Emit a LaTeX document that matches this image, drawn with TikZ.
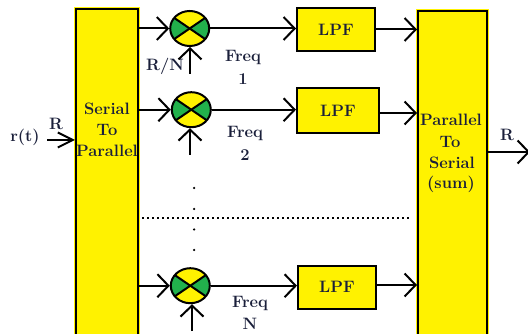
\documentclass[tikz,border=0pt]{standalone}
\usetikzlibrary{arrows.meta,shapes.geometric}
\definecolor{byel}{HTML}{FFF200}
\definecolor{bgrn}{HTML}{22B14C}
\definecolor{ink}{HTML}{1A1F3A}
\tikzset{
  block/.style={draw=black,line width=2pt,fill=byel,preaction={draw=byel,line width=4pt},inner sep=0pt,minimum width=#1},
  lpfbox/.style={draw=black,line width=2pt,fill=byel,inner sep=0pt,minimum width=#1,minimum height=43pt,text=ink,font=\fontsize{16.5}{18}\selectfont\bfseries},
  mixer/.style={ellipse,draw=black,line width=2pt,minimum width=39pt,minimum height=35pt,inner sep=0pt,fill=byel,
    path picture={
      \fill[bgrn] (path picture bounding box.center) -- ++(-30pt,20.5pt) -- ++(0,-41pt) -- cycle;
      \fill[bgrn] (path picture bounding box.center) -- ++(30pt,20.5pt) -- ++(0,-41pt) -- cycle;
      \draw[black,line width=2pt] (path picture bounding box.center) ++(-30pt,20.5pt) -- ++(60pt,-41pt);
      \draw[black,line width=2pt] (path picture bounding box.center) ++(-30pt,-20.5pt) -- ++(60pt,41pt);
    }},
  lbl/.style={text=ink,inner sep=0pt,font=\fontsize{16.5}{18}\selectfont\bfseries},
  flow/.style={draw=black,line width=2pt,-{Straight Barb[length=11pt,width=23pt,line width=2pt]}},
  inflow/.style={draw=black,line width=2pt,-{Straight Barb[length=15pt,width=15pt,line width=2pt]}},
  dotmark/.style={circle,fill=black,inner sep=0pt,minimum size=2.5pt}
}
\begin{document}
\begin{tikzpicture}[x=1pt,y=-1pt]
\useasboundingbox (0,0) rectangle (528,334);
\clip (0,0) rectangle (528,334);
\node[block=62pt,minimum height=340pt] (sp) at (107,179) {};
\node[block=69pt,minimum height=340pt] (ps) at (452.5,181) {};
\node[lpfbox=78pt] (l1) at (336,29.5) {LPF};
\node[lpfbox=82pt,minimum height=45pt] (l2) at (338,110.5) {LPF};
\node[lpfbox=78pt] (l3) at (337,287) {LPF};
\node[mixer] (m1) at (189.7,28.5) {};
\node[mixer] (m2) at (191.3,109.7) {};
\node[mixer] (m3) at (190.3,285.7) {};
\node[lbl] (tsp1) at (107,109) {Serial};
\node[lbl] (tsp2) at (107,130) {To};
\node[lbl] (tsp3) at (107,151) {Parallel};
\node[lbl] (tps1) at (451,120) {Parallel};
\node[lbl] (tps2) at (450,142) {To};
\node[lbl] (tps3) at (452,163) {Serial};
\node[lbl] (tps4) at (451,184) {(sum)};
\node[lbl] (trt) at (25,137) {r(t)};
\node[lbl] (tri) at (56,124) {R};
\node[lbl] (tro) at (507,135) {R};
\node[lbl] (trn) at (165,66) {R/N};
\node[lbl] (f1a) at (243,57) {Freq};
\node[lbl] (f1b) at (243,79) {1};
\node[lbl] (f2a) at (245,133) {Freq};
\node[lbl] (f2b) at (245,155) {2};
\node[lbl] (f3a) at (250,303) {Freq};
\node[lbl] (f3b) at (250,324) {N};
\coordinate (in) at (47,140);
\coordinate (out) at (530,152);
\coordinate (v1) at (190,74);
\coordinate (v2) at (190,155);
\coordinate (v3) at (192,331);
\draw[inflow] (in) -- (in -| sp.west);
\draw[flow] (sp.east |- m1.west) -- (m1.west);
\draw[flow] (sp.east |- m2.west) -- (m2.west);
\draw[flow] (sp.east |- m3.west) -- (m3.west);
\draw[flow] (v1) -- (v1 |- m1.south);
\draw[flow] (v2) -- (v2 |- m2.south);
\draw[flow] (v3) -- (v3 |- m3.south);
\draw[flow] (m1.east) -- (m1.east -| l1.west);
\draw[flow] (m2.east) -- (m2.east -| l2.west);
\draw[flow] (m3.east) -- (m3.east -| l3.west);
\draw[flow] (l1.east) -- (l1.east -| ps.west);
\draw[flow] (l2.east |- 0,113) -- (ps.west |- 0,113);
\draw[flow] (l3.east |- 0,285) -- (ps.west |- 0,285);
\draw[flow,line width=1.6pt] (ps.east |- out) -- (out);
\coordinate (dl) at (142,218.5);
\coordinate (dr) at (410,218.5);
\draw[black,line width=2pt,dash pattern=on 2pt off 3pt] (dl) -- (dr);
\node[dotmark] (d1) at (194,188) {};
\node[dotmark] (d2) at (194,209) {};
\node[dotmark] (d3) at (194,229.5) {};
\node[dotmark] (d4) at (194,250) {};
\end{tikzpicture}
\end{document}
